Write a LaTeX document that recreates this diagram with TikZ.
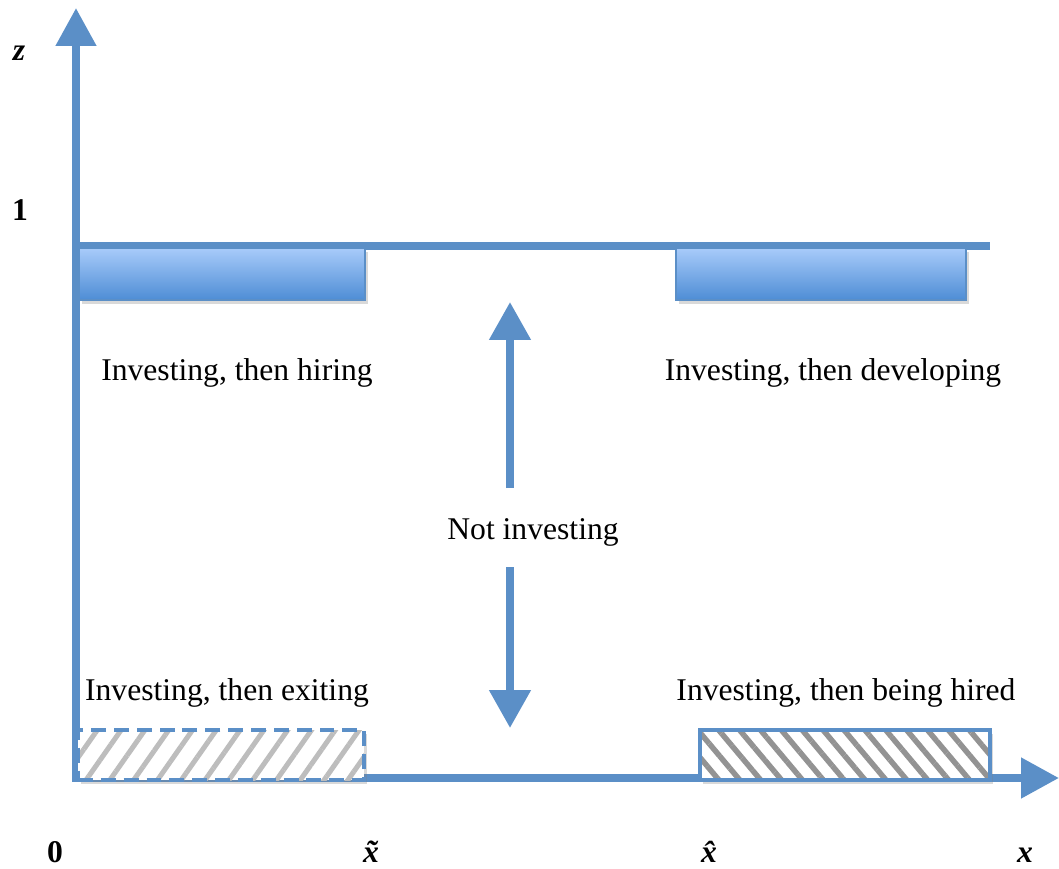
\documentclass[tikz,border=0pt]{standalone}
\usepackage{fontspec}
\setmainfont{Liberation Serif}
\usetikzlibrary{arrows.meta,shadows,patterns.meta}
\definecolor{axisblue}{HTML}{5B8FC7}
\definecolor{bartop}{HTML}{A8CBFA}
\definecolor{barbot}{HTML}{4E8DD5}
\definecolor{hatchlight}{HTML}{BDBDBD}
\definecolor{hatchdark}{HTML}{939393}
\tikzstyle{axis} = [draw=axisblue, line width=4.5pt]
\tikzstyle{bothtips} = [{Triangle[width=0.78cm,length=0.76cm]}-{Triangle[width=0.78cm,length=0.76cm]}]
\tikzstyle{bar} = [rectangle, draw=axisblue, line width=1.5pt, top color=bartop,
    bottom color=barbot, minimum height=1.04cm, inner sep=0pt,
    drop shadow={opacity=0.3, shadow xshift=0.06cm, shadow yshift=-0.08cm}]
\tikzstyle{exitbox} = [rectangle, minimum height=1cm, inner sep=0pt,
    drop shadow={opacity=0.3, shadow xshift=0.06cm, shadow yshift=-0.08cm},
    preaction={fill=white},
    pattern={Lines[angle=55,distance=0.39cm,line width=0.1cm]}, pattern color=hatchlight,
    postaction={draw=axisblue, line width=2.2pt, dash pattern=on 8.5pt off 4.5pt}]
\tikzstyle{hiredbox} = [rectangle, minimum height=1cm, inner sep=0pt,
    drop shadow={opacity=0.3, shadow xshift=0.06cm, shadow yshift=-0.08cm},
    preaction={fill=white},
    pattern={Lines[angle=-50,distance=0.32cm,line width=0.11cm]}, pattern color=hatchdark,
    postaction={draw=axisblue, line width=2.2pt}]
\tikzstyle{lbl} = [anchor=base, inner sep=0pt, font=\fontsize{18}{22}\selectfont]
\tikzstyle{axlbl} = [anchor=base, inner sep=0pt, font=\fontsize{18}{22}\selectfont\bfseries]

\begin{document}
\begin{tikzpicture}[x=0.02cm, y=-0.02cm]
    \useasboundingbox (0,0) rectangle (1059,869);
    % Axes
\coordinate (O) at (76,778); \coordinate (zend) at (76,8);
\coordinate (xend) at (1059,778);
\coordinate (topl) at (76,246); \coordinate (topr) at (990,246);
\path [axis, bothtips] (zend) -- (O) -- (xend);
\path [axis] (topl) -- (topr);

    % Place boxes
\node [bar, minimum width=5.72cm] (hiring) at (222,274) {};
\node [bar, minimum width=5.8cm] (developing) at (821,274) {};
\node [exitbox, minimum width=5.72cm] (exiting) at (221,755) {};
\node [hiredbox, minimum width=5.8cm] (hired) at (845,755) {};

    % Place labels
\node [lbl] (thiring) at (237,380) {Investing, then hiring};
\node [lbl] (tdeveloping) at (833,380) {Investing, then developing};
\node [lbl] (tnot) at (533,539) {Not investing};
\node [lbl] (texiting) at (227,700) {Investing, then exiting};
\node [lbl] (thired) at (846,700) {Investing, then being hired};
\node [axlbl] (zlbl) at (19,60) {\itshape z};
\node [axlbl] (one) at (20,220) {1};
\node [axlbl] (zero) at (55,862) {0};
\node [axlbl] (xtilde) at (371,862) {\itshape \~{x}};
\node [axlbl] (xhat) at (709,862) {\itshape \^{x}};
\node [axlbl] (xlbl) at (1025,862) {\itshape x};

    % Draw arrows
\coordinate (upfrom) at (510,488); \coordinate (upto) at (510,302);
\coordinate (downfrom) at (510,567); \coordinate (downto) at (510,728);
\path [axis, -{Triangle[width=0.8cm,length=0.76cm]}] (upfrom) -- (upto);
\path [axis, -{Triangle[width=0.8cm,length=0.76cm]}] (downfrom) -- (downto);

\end{tikzpicture}
\end{document}
